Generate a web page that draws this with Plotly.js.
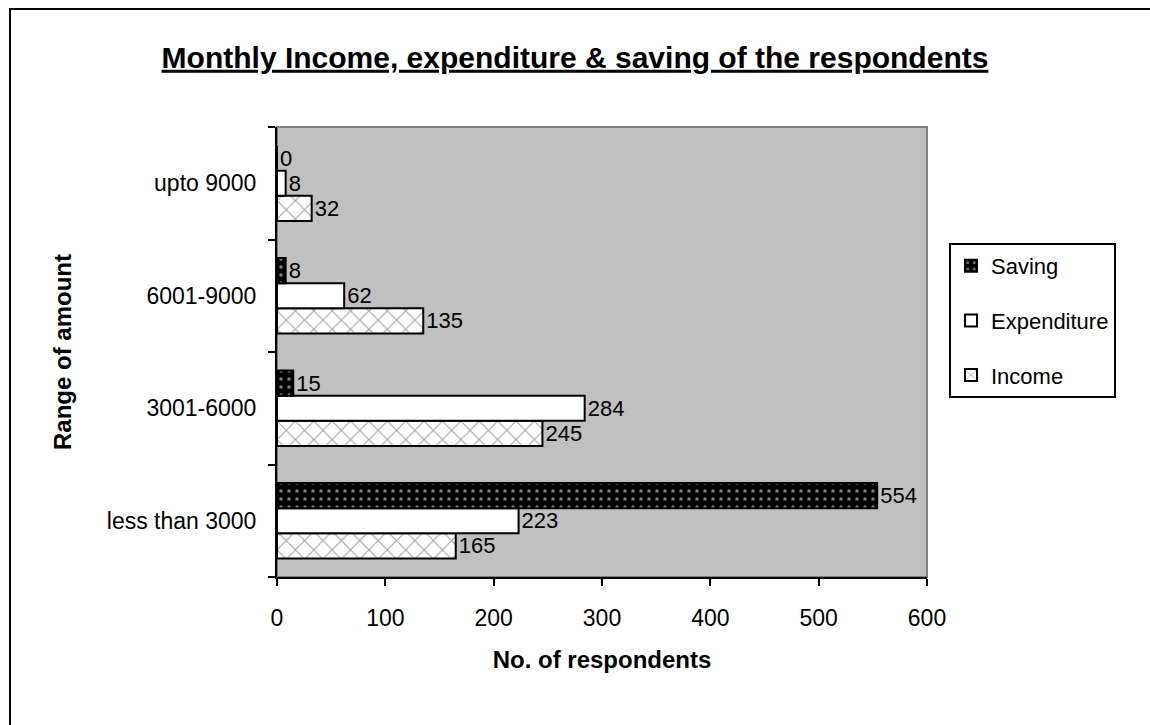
<!DOCTYPE html>
<html>
<head>
<meta charset="utf-8">
<script src="https://cdn.plot.ly/plotly-3.0.1.min.js"></script>
<style>
  html, body { margin: 0; padding: 0; background: #ffffff; }
  #chart { width: 1150px; height: 725px; }
</style>
</head>
<body>
<div id="chart"></div>
<script>
// Income brackets (bottom to top on the category axis)
const categories = ['less than 3000', '3001-6000', '6001-9000', 'upto 9000'];

// Number of respondents per bracket
const incomeValues = [165, 245, 135, 32];
const expenditureValues = [223, 284, 62, 8];
const savingValues = [554, 15, 8, 0];

const FONT = 'Liberation Sans, Arial, sans-serif';
const labelFont = { family: FONT, size: 22, color: '#000000' };
const tickFont = { family: FONT, size: 23, color: '#000000' };

function barTrace(name, values, rank, pattern, fill) {
  return {
    type: 'bar',
    orientation: 'h',
    name: name,
    legendgroup: name,
    legendrank: rank,
    y: categories,
    x: values,
    text: values.map(String),
    textposition: 'outside',
    cliponaxis: false,
    textfont: labelFont,
    marker: {
      color: fill,
      line: { color: '#000000', width: 2 },
      pattern: pattern
    },
    hoverinfo: 'x+name'
  };
}

// Income is drawn lowest in each group, Saving on top; the legend lists Saving first
const traces = [
  barTrace('Income', incomeValues, 3,
    { shape: 'x', bgcolor: '#ffffff', fgcolor: '#444444', size: 13, solidity: 0.16, fillmode: 'overlay' }, '#ffffff'),
  barTrace('Expenditure', expenditureValues, 2, { shape: '' }, '#ffffff'),
  barTrace('Saving', savingValues, 1,
    { shape: '.', bgcolor: '#000000', fgcolor: '#ffffff', size: 8, solidity: 0.15, fillmode: 'overlay' }, '#000000')
];

const layout = {
  width: 1150,
  height: 725,
  paper_bgcolor: '#ffffff',
  plot_bgcolor: '#c0c0c0',
  margin: { l: 277, r: 223, t: 127, b: 148, pad: 0 },
  font: labelFont,
  title: {
    text: '<u>Monthly Income, expenditure &amp; saving of the respondents</u>',
    font: { family: FONT, size: 30, color: '#000000', weight: 'bold' },
    x: 0.5,
    xanchor: 'center',
    y: 0.921,
    yanchor: 'middle'
  },
  barmode: 'group',
  bargap: 0.33,
  bargroupgap: 0,
  showlegend: true,
  legend: {
    traceorder: 'grouped',
    tracegroupgap: 23,
    x: (949 - 277) / 650,
    xanchor: 'left',
    y: (577 - 243) / 450,
    yanchor: 'top',
    bgcolor: '#ffffff',
    bordercolor: '#000000',
    borderwidth: 2,
    font: labelFont,
    itemwidth: 30
  },
  xaxis: {
    range: [0, 600],
    dtick: 100,
    tick0: 0,
    showgrid: false,
    zeroline: false,
    showline: true,
    linecolor: '#000000',
    linewidth: 2,
    ticks: 'outside',
    ticklen: 7,
    tickwidth: 2,
    tickcolor: '#000000',
    ticklabelstandoff: 12,
    tickfont: tickFont,
    title: { text: '<b>No. of respondents</b>', font: { family: FONT, size: 24, color: '#000000' }, standoff: 22 },
    fixedrange: true
  },
  yaxis: {
    type: 'category',
    showgrid: false,
    zeroline: false,
    showline: true,
    linecolor: '#000000',
    linewidth: 2,
    ticks: 'outside',
    tickson: 'boundaries',
    ticklen: 7,
    tickwidth: 2,
    tickcolor: '#000000',
    ticklabelstandoff: 14,
    tickfont: tickFont,
    title: { text: '<b>Range of amount</b>', font: { family: FONT, size: 24, color: '#000000' }, standoff: 28 },
    fixedrange: true
  },
  shapes: [
    // grey frame around the plotting area
    { type: 'rect', xref: 'paper', yref: 'paper', x0: 0, x1: 1, y0: 0, y1: 1,
      line: { color: '#808080', width: 2 }, layer: 'below' },
    // outer chart border
    { type: 'rect', xref: 'paper', yref: 'paper',
      x0: -267 / 650, x1: 1.5, y0: -1, y1: 1 + 118 / 450,
      line: { color: '#000000', width: 2 }, fillcolor: 'rgba(0,0,0,0)', layer: 'above' }
  ]
};

Plotly.newPlot('chart', traces, layout, { displayModeBar: false, staticPlot: true });
</script>
</body>
</html>
